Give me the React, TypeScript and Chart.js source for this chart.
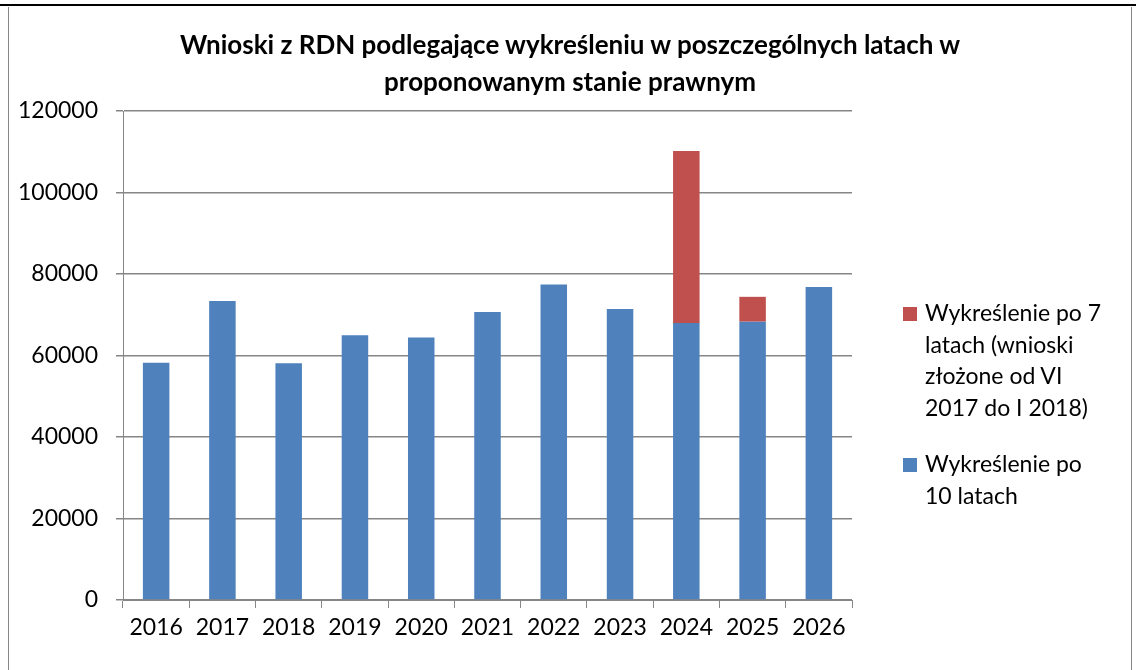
import React, { useEffect, useRef } from "react";
import { Chart, registerables } from "chart.js";

Chart.register(...registerables);

const years = ["2016", "2017", "2018", "2019", "2020", "2021", "2022", "2023", "2024", "2025", "2026"];
const after10 = [58200, 73400, 58100, 65000, 64400, 70700, 77400, 71400, 68000, 68300, 76800];
const after7 = [0, 0, 0, 0, 0, 0, 0, 0, 42200, 6100, 0];
const yTicks = [0, 20000, 40000, 60000, 80000, 100000, 120000];

const BLUE = "#4F81BD";
const RED = "#C0504D";
const GRID = "#868686";
const FONT = "Lato, 'Open Sans', sans-serif";

export default function App() {
  const ref = useRef<HTMLCanvasElement>(null);
  useEffect(() => {
    if (!ref.current) return;
    const chart = new Chart(ref.current, {
      type: "bar",
      data: {
        labels: years,
        datasets: [
          { label: "Wykreślenie po 10 latach", data: after10, backgroundColor: BLUE, borderWidth: 0, categoryPercentage: 1, barPercentage: 0.4 },
          { label: "Wykreślenie po 7 latach (wnioski złożone od VI 2017 do I 2018)", data: after7, backgroundColor: RED, borderWidth: 0, categoryPercentage: 1, barPercentage: 0.4 },
        ],
      },
      options: {
        responsive: false,
        animation: false,
        layout: { padding: { left: 8, right: 284, top: 111, bottom: 10 } },
        plugins: { legend: { display: false }, tooltip: { enabled: false }, title: { display: false } },
        scales: {
          x: {
            stacked: true,
            grid: { offset: true, drawOnChartArea: false, color: GRID, tickLength: 8, lineWidth: 1 },
            border: { color: GRID, width: 1 },
            ticks: { color: "#000", font: { family: FONT, size: 23 }, padding: 6 },
            afterFit: (s: any) => { s.height = 60; },
          },
          y: {
            stacked: true,
            min: 0,
            max: 120000,
            afterBuildTicks: (s: any) => { s.ticks = yTicks.map((v) => ({ value: v })); },
            grid: { color: GRID, tickLength: 7, lineWidth: 1.5 },
            border: { color: GRID, width: 1 },
            ticks: { color: "#000", font: { family: FONT, size: 23 }, padding: 18, callback: (v: any) => String(v) },
            afterFit: (s: any) => { s.width = 115; },
          },
        },
      },
    });
    return () => chart.destroy();
  }, []);

  const legendItem = (color: string, lines: string[], top: number) => (
    <div style={{ position: "absolute", left: 903, top, fontFamily: FONT, fontSize: 23, lineHeight: "31.5px", color: "#000" }}>
      <div style={{ position: "absolute", left: 0, top: 10, width: 14, height: 14, background: color }} />
      <div style={{ marginLeft: 22 }}>
        {lines.map((l, i) => (<div key={i} style={{ whiteSpace: "nowrap" }}>{l}</div>))}
      </div>
    </div>
  );

  return (
    <div style={{ position: "fixed", left: 0, top: 0, width: 1136, height: 670, background: "#fff", overflow: "hidden" }}>
      <div style={{ position: "absolute", left: 0, top: 4, width: 1136, height: 2, background: "#000" }} />
      <div style={{ position: "absolute", left: 8, top: 7, width: 1, height: 663, background: GRID }} />
      <div style={{ position: "absolute", left: 1131, top: 7, width: 1, height: 663, background: GRID }} />
      <canvas ref={ref} width={1136} height={670} style={{ position: "absolute", left: 0, top: 0 }} />
      <div style={{ position: "absolute", left: 120, top: 26, width: 900, textAlign: "center", fontFamily: FONT, fontWeight: 700, fontSize: 26, lineHeight: "37px", color: "#000" }}>
        Wnioski z RDN podlegające wykreśleniu w poszczególnych latach w<br />proponowanym stanie prawnym
      </div>
      {legendItem(RED, ["Wykreślenie po 7", "latach (wnioski", "złożone od VI", "2017 do I 2018)"], 297)}
      {legendItem(BLUE, ["Wykreślenie po", "10 latach"], 448)}
    </div>
  );
}
